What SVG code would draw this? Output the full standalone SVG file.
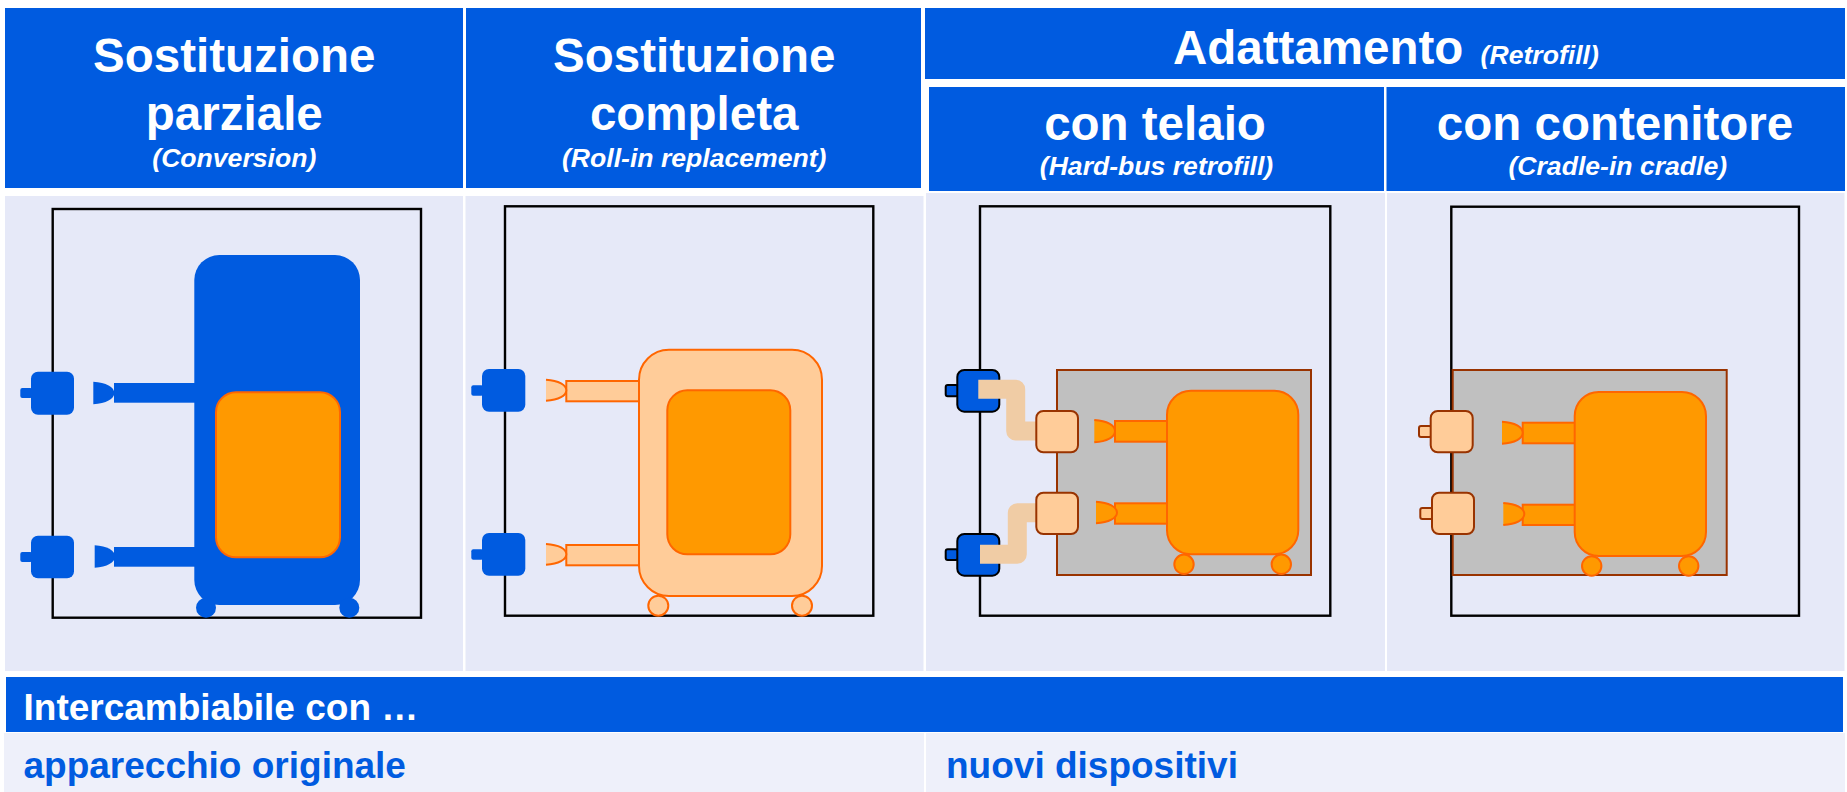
<svg xmlns="http://www.w3.org/2000/svg" width="1847" height="792" viewBox="0 0 1847 792">
<style>
.hd{fill:#005BE0}
.pn{fill:#E6E9F8}
.rw{fill:#EEF0FA}
.t{font-family:"Liberation Sans",Arial,sans-serif;font-weight:700;fill:#fff;text-anchor:middle}
.big{font-size:47.5px}
.sub{font-size:26.6px;font-style:italic}
.low{font-size:37px;text-anchor:start}
.bl{fill:#005BE0}
.frame{fill:none;stroke:#000;stroke-width:2.4}
.blue{fill:#005BE0;stroke:none}
.blk{fill:#005BE0;stroke:#000;stroke-width:2}
.core{fill:#FF9900;stroke:#FF6600;stroke-width:2}
.peach{fill:#FFCC99;stroke:#FF6600;stroke-width:2}
.cas{fill:#FFCC99;stroke:#993300;stroke-width:2}
.tray{fill:#C0C0C0;stroke:#993300;stroke-width:2}
.link{fill:none;stroke:#F0CCA5;stroke-width:19;stroke-linejoin:round}
</style>
<rect width="1847" height="792" fill="#fff"/>
<g id="headers">
<rect class="hd" x="5" y="8" width="458" height="180"/>
<rect class="hd" x="466" y="8" width="455" height="180"/>
<rect class="hd" x="925" y="8" width="920" height="71"/>
<rect class="hd" x="929" y="87" width="455" height="104"/>
<rect class="hd" x="1386.500" y="87" width="458.500" height="104"/>
<text class="t big" x="234.300" y="71.500">Sostituzione</text>
<text class="t big" x="234.300" y="130">parziale</text>
<text class="t sub" x="234.300" y="166.500">(Conversion)</text>
<text class="t big" x="694.200" y="71.500">Sostituzione</text>
<text class="t big" x="694.200" y="130">completa</text>
<text class="t sub" x="694.200" y="166.500">(Roll-in replacement)</text>
<text class="t big" x="1173" y="63.500" style="text-anchor:start">Adattamento</text>
<text class="t sub" x="1480.600" y="63.500" style="text-anchor:start">(Retrofill)</text>
<text class="t big" x="1155" y="139.500">con telaio</text>
<text class="t sub" x="1156.500" y="175">(Hard-bus retrofill)</text>
<text class="t big" x="1615" y="139.500">con contenitore</text>
<text class="t sub" x="1617.800" y="175">(Cradle-in cradle)</text>
</g>
<g id="panels">
<rect class="pn" x="5" y="196" width="458" height="475"/>
<rect class="pn" x="465.500" y="196" width="458" height="475"/>
<rect class="pn" x="926" y="193" width="459" height="478"/>
<rect class="pn" x="1387" y="193" width="457.500" height="478"/>
</g>
<g id="col1">
<rect class="frame" x="52.700" y="209" width="368.300" height="408.700"/>
<g id="col1-unit" class="bl">
<rect x="194.300" y="255" width="165.700" height="350" rx="25" ry="25"/>
<rect x="114" y="383" width="81" height="19.700"/>
<rect x="114" y="547" width="81" height="19.700"/>
<circle cx="206" cy="607.700" r="10"/>
<circle cx="349.300" cy="607.700" r="10"/>
<path d="M93.300 381.700C106 382.500 114.300 387 114.300 393C114.300 399 106 403.500 93.300 404.300Z"/>
<path d="M94.700 545.300C107 546 115 550.500 115 556.500C115 562.500 107 567 94.700 567.700Z"/>
</g>
<rect id="col1-core" class="core" x="216" y="392.300" width="124" height="165" rx="20" ry="20"/>
<g id="col1-socket-top"><rect class="blue" x="20.300" y="388" width="12" height="10" rx="2"/><rect class="blue" x="31" y="371.700" width="43" height="43" rx="7"/></g>
<g id="col1-socket-bottom"><rect class="blue" x="20.300" y="552" width="12" height="10" rx="2"/><rect class="blue" x="31" y="535.700" width="43" height="42.600" rx="7"/></g>
</g>
<g id="col2">
<rect class="frame" x="505" y="206.300" width="368.300" height="409.400"/>
<g id="col2-unit">
<rect class="peach" x="566.300" y="381" width="74" height="20.300"/>
<rect class="peach" x="566.300" y="545" width="74" height="20.300"/>
<circle class="peach" cx="658.300" cy="605.700" r="10"/>
<circle class="peach" cx="802" cy="605.700" r="10"/>
<rect class="peach" x="639" y="349.700" width="183" height="246.300" rx="30" ry="30"/>
<path class="peach" d="M546 379.700C559 380.500 566.300 385 566.300 390.200C566.300 395.500 559 400 546 400.700"/>
<path class="peach" d="M546 544C559 544.800 566.300 549 566.300 554.300C566.300 559.500 559 564 546 564.700"/>
</g>
<rect id="col2-core" class="core" x="667.300" y="390.300" width="123" height="164" rx="20" ry="20"/>
<g id="col2-socket-top"><rect class="blue" x="471.300" y="385.300" width="12" height="10.400" rx="2"/><rect class="blue" x="482" y="369" width="43.300" height="42.700" rx="7"/></g>
<g id="col2-socket-bottom"><rect class="blue" x="471.300" y="549.300" width="12" height="10.400" rx="2"/><rect class="blue" x="482" y="533" width="43.300" height="42.700" rx="7"/></g>
</g>
<g id="col3">
<rect class="frame" x="980" y="206.300" width="350.300" height="409.400"/>
<rect id="col3-tray" class="tray" x="1057" y="370" width="254" height="205"/>
<g id="col3-unit">
<rect class="core" x="1115" y="421" width="53" height="20.700"/>
<rect class="core" x="1115" y="503.300" width="53" height="20.400"/>
<circle class="core" cx="1184" cy="564.300" r="9.700"/>
<circle class="core" cx="1281.300" cy="564.300" r="9.700"/>
<rect class="core" x="1167" y="390.700" width="131.300" height="163.600" rx="24" ry="24"/>
<path class="core" d="M1094.300 420C1107 420.800 1115 425 1115 431C1115 437 1107 441.500 1094.300 442.300"/>
<path class="core" d="M1096 501.700C1109 502.500 1117 507 1117 512.500C1117 518 1109 522.500 1096 523.300"/>
</g>
<g id="col3-socket-top"><rect class="blk" x="945.700" y="385" width="12.300" height="11.300" rx="2"/><rect class="blk" x="957.300" y="370" width="42" height="41.700" rx="7"/></g>
<g id="col3-socket-bottom"><rect class="blk" x="945.700" y="549.300" width="12.300" height="10.700" rx="2"/><rect class="blk" x="957.300" y="534" width="42" height="41.700" rx="7"/></g>
</g>
<g id="connectors">
<path class="link" d="M978.300 389.300H1015.700V431H1037"/>
<path class="link" d="M980 554.300H1017.300V512.700H1037"/>
</g>
<g id="col3-adapter-top"><rect class="cas" x="1036.300" y="411" width="41.700" height="41.300" rx="7"/></g>
<g id="col3-adapter-bottom"><rect class="cas" x="1036.300" y="492.700" width="41.700" height="41.300" rx="7"/></g>
<g id="col4">
<rect class="frame" x="1451.300" y="206.700" width="347.700" height="409"/>
<rect id="col4-tray" class="tray" x="1452.700" y="370" width="274" height="205"/>
<g id="col4-unit">
<rect class="core" x="1522.700" y="422.700" width="53" height="20.600"/>
<rect class="core" x="1522.700" y="504.700" width="53" height="20.300"/>
<circle class="core" cx="1591.700" cy="566" r="9.700"/>
<circle class="core" cx="1688.700" cy="566" r="9.700"/>
<rect class="core" x="1574.700" y="392" width="131.300" height="164" rx="24" ry="24"/>
<path class="core" d="M1502 421.700C1515 422.500 1522.700 427 1522.700 432.700C1522.700 438.500 1515 443 1502 443.700"/>
<path class="core" d="M1503.300 503C1516.300 503.800 1524.300 508.300 1524.300 514C1524.300 519.700 1516.300 524.200 1503.300 525"/>
</g>
<g id="col4-socket-top"><rect class="cas" x="1419" y="426" width="12.300" height="11" rx="2"/><rect class="cas" x="1430.700" y="411" width="42" height="41.300" rx="7"/></g>
<g id="col4-socket-bottom"><rect class="cas" x="1420.300" y="508" width="12.300" height="11" rx="2"/><rect class="cas" x="1432" y="492.700" width="42" height="41.300" rx="7"/></g>
</g>
<g id="footer">
<rect class="hd" x="6" y="677" width="1837" height="55"/>
<rect class="rw" x="4" y="733" width="920" height="59"/>
<rect class="rw" x="926" y="733" width="919" height="59"/>
<text class="t low" x="23.500" y="719.500">Intercambiabile con …</text>
<text class="t low" x="23.500" y="778" style="fill:#005BE0">apparecchio originale</text>
<text class="t low" x="946" y="778" style="fill:#005BE0">nuovi dispositivi</text>
</g>
</svg>
